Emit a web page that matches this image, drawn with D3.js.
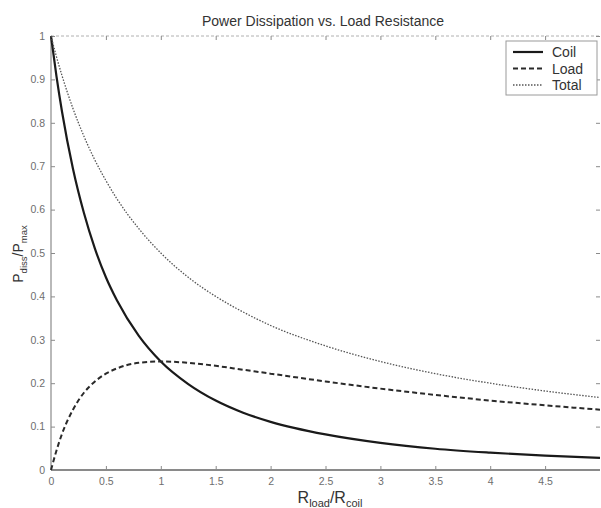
<!DOCTYPE html>
<html>
<head>
<meta charset="utf-8">
<script src="https://cdn.jsdelivr.net/npm/d3@7"></script>
<style>
  body { margin: 0; background: #fff; font-family: Arial, "Liberation Sans", sans-serif; }
  svg { display: block; }
</style>
</head>
<body>
<svg id="canvas" width="601" height="508"></svg>
<script>
// values
let rRatio = [0, 0.05, 0.1, 0.2, 0.3, 0.4, 0.5, 0.6, 0.8, 1, 1.25, 1.5, 1.75, 2, 2.5, 3, 3.5, 4, 4.5, 5];
let coil  = [1, 0.907, 0.826, 0.694, 0.592, 0.51, 0.444, 0.391, 0.309, 0.25, 0.198, 0.16, 0.132, 0.111, 0.082, 0.0625, 0.049, 0.04, 0.033, 0.028];
let load  = [0, 0.045, 0.083, 0.139, 0.178, 0.204, 0.222, 0.234, 0.247, 0.25, 0.247, 0.24, 0.231, 0.222, 0.204, 0.1875, 0.173, 0.16, 0.149, 0.139];
let total = [1, 0.952, 0.909, 0.833, 0.769, 0.714, 0.667, 0.625, 0.556, 0.5, 0.444, 0.4, 0.364, 0.333, 0.286, 0.25, 0.222, 0.2, 0.182, 0.167];
let xTicks = [0, 0.5, 1, 1.5, 2, 2.5, 3, 3.5, 4, 4.5];
let yTicks = [0, 0.1, 0.2, 0.3, 0.4, 0.5, 0.6, 0.7, 0.8, 0.9, 1];

let plotLeft = 51, plotRight = 600, plotTop = 36, plotBottom = 470;
let canvas = d3.select("#canvas");

let x = d3.scaleLinear().domain([0, 5]).range([plotLeft, plotRight]);
let y = d3.scaleLinear().domain([0, 1]).range([plotBottom, plotTop]);

let axisColor = "#8a8a8a";
let labelColor = "#6e6e6e";

// frame
canvas.append("line")
  .attr("x1", plotLeft).attr("x2", plotRight).attr("y1", plotTop).attr("y2", plotTop)
  .attr("stroke", "#b0b0b0").attr("stroke-width", 1).attr("stroke-dasharray", "3,2");
canvas.append("line")
  .attr("x1", plotLeft).attr("x2", plotLeft).attr("y1", plotTop).attr("y2", plotBottom)
  .attr("stroke", axisColor).attr("stroke-width", 1.2);
canvas.append("line")
  .attr("x1", plotLeft).attr("x2", plotRight).attr("y1", plotBottom).attr("y2", plotBottom)
  .attr("stroke", axisColor).attr("stroke-width", 2);

let xAxis = d3.axisBottom(x).tickValues(xTicks).tickSize(-4).tickPadding(8)
  .tickFormat(d3.format("~g"));
let gx = canvas.append("g").attr("transform", "translate(0," + plotBottom + ")").call(xAxis);
let xTop = d3.axisTop(x).tickValues(xTicks).tickSize(-4).tickFormat("");
let gxt = canvas.append("g").attr("transform", "translate(0," + plotTop + ")").call(xTop);

let yAxis = d3.axisLeft(y).tickValues(yTicks).tickSize(-4).tickPadding(6)
  .tickFormat(d3.format("~g"));
let gy = canvas.append("g").attr("transform", "translate(" + plotLeft + ",0)").call(yAxis);
let yRight = d3.axisRight(y).tickValues(yTicks).tickSize(-4).tickFormat("");
let gyr = canvas.append("g").attr("transform", "translate(" + plotRight + ",0)").call(yRight);

[gx, gxt, gy, gyr].forEach((g) => {
  g.select(".domain").remove();
  g.selectAll(".tick line").attr("stroke", axisColor);
  g.selectAll(".tick text")
    .attr("fill", labelColor)
    .style("font-size", "10.5px")
    .style("font-family", "Arial, 'Liberation Sans', sans-serif");
});

// curves
let series = [
  { name: "Coil", values: coil, width: 2.2, dash: null, color: "#1a1a1a" },
  { name: "Load", values: load, width: 2, dash: "5,3", color: "#2a2a2a" },
  { name: "Total", values: total, width: 1.3, dash: "1.5,1.5", color: "#555" }
];

let line = d3.line()
  .x((d) => x(d[0]))
  .y((d) => y(d[1]))
  .curve(d3.curveMonotoneX);

series.forEach((s) => {
  canvas.append("path")
    .datum(rRatio.map((r, i) => [r, s.values[i]]))
    .attr("d", line)
    .attr("fill", "none")
    .attr("stroke", s.color)
    .attr("stroke-width", s.width)
    .attr("stroke-dasharray", s.dash);
});

// title
canvas.append("text")
  .attr("x", 323).attr("y", 26)
  .attr("text-anchor", "middle")
  .attr("fill", "#333")
  .style("font-size", "14px")
  .text("Power Dissipation vs. Load Resistance");

// legend
let legend = canvas.append("g").attr("transform", "translate(506,41)");
legend.append("rect")
  .attr("width", 91).attr("height", 54)
  .attr("fill", "#fff").attr("stroke", "#9a9a9a").attr("stroke-width", 1);
series.forEach((s, i) => {
  let ly = 11 + i * 16.5;
  legend.append("line")
    .attr("x1", 7).attr("x2", 37).attr("y1", ly).attr("y2", ly)
    .attr("stroke", s.color)
    .attr("stroke-width", s.width)
    .attr("stroke-dasharray", s.dash);
  legend.append("text")
    .attr("x", 46).attr("y", ly + 5)
    .attr("fill", "#333")
    .style("font-size", "14px")
    .text(s.name);
});

// axis labels
let xl = canvas.append("text")
  .attr("x", 330).attr("y", 503)
  .attr("text-anchor", "middle")
  .attr("fill", "#333")
  .style("font-size", "16px");
xl.append("tspan").text("R");
xl.append("tspan").attr("dy", 4).style("font-size", "11px").text("load");
xl.append("tspan").attr("dy", -4).text("/R");
xl.append("tspan").attr("dy", 4).style("font-size", "11px").text("coil");

let yl = canvas.append("text")
  .attr("transform", "translate(23,254) rotate(-90)")
  .attr("text-anchor", "middle")
  .attr("fill", "#333")
  .style("font-size", "14px");
yl.append("tspan").text("P");
yl.append("tspan").attr("dy", 4).style("font-size", "9.5px").text("diss");
yl.append("tspan").attr("dy", -4).text("/P");
yl.append("tspan").attr("dy", 4).style("font-size", "9.5px").text("max");
</script>
</body>
</html>
